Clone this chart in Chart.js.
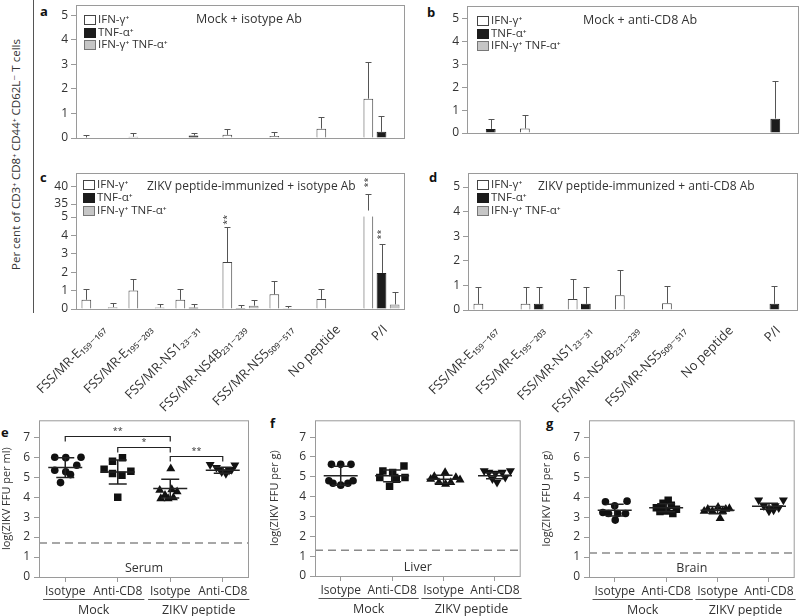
<!DOCTYPE html>
<html>
<head>
<meta charset="utf-8">
<script src="https://cdn.jsdelivr.net/npm/chart.js@4.4.1/dist/chart.umd.min.js"></script>
<style>
  body { margin: 0; background: #fff; width: 800px; height: 616px; position: relative; overflow: hidden; font-family: "Open Sans", "DejaVu Sans", sans-serif; color: #333; }
  canvas { position: absolute; }
  .letter { position: absolute; font-weight: bold; font-size: 13px; color: #111; }
  #ytitle { position: absolute; left: -115px; top: 147px; width: 260px; text-align: center; font-size: 11.5px; transform: rotate(-90deg); }
  #vline { position: absolute; left: 33px; top: 0; width: 1px; height: 313px; background: #555; }
</style>
</head>
<body>
<div id="vline"></div>
<div id="ytitle">Per cent of CD3⁺ CD8⁺ CD44⁺ CD62L⁻ T cells</div>
<div class="letter" style="left:40px;top:2px">a</div>
<div class="letter" style="left:427px;top:3px">b</div>
<div class="letter" style="left:40px;top:168px">c</div>
<div class="letter" style="left:429px;top:168px">d</div>
<div class="letter" style="left:1px;top:423px">e</div>
<div class="letter" style="left:270px;top:414px">f</div>
<div class="letter" style="left:546px;top:414px">g</div>

<canvas id="pa" width="372" height="148" style="left:36px;top:0"></canvas>
<canvas id="pb" width="373" height="143" style="left:427px;top:0"></canvas>
<canvas id="pc" width="380" height="254" style="left:28px;top:160px"></canvas>
<canvas id="pd" width="381" height="254" style="left:419px;top:160px"></canvas>
<canvas id="pe" width="255" height="201" style="left:0;top:415px"></canvas>
<canvas id="pf" width="258" height="201" style="left:268px;top:415px"></canvas>
<canvas id="pg" width="260" height="201" style="left:540px;top:415px"></canvas>

<script>
const FONT = '"Open Sans", "DejaVu Sans", sans-serif';
const TXT = '#333';
const AXIS = '#9a9a9a';

// ---------- panels a-d : cytokine bars ----------
const peptides = ['FSS/MR-E₁₅₉₋₁₆₇', 'FSS/MR-E₁₉₅₋₂₀₃', 'FSS/MR-NS1₂₃₋₃₁', 'FSS/MR-NS4B₂₃₁₋₂₃₉', 'FSS/MR-NS5₅₀₉₋₅₁₇', 'No peptide', 'P/I'];
const cytokines = ['IFN-γ⁺', 'TNF-α⁺', 'IFN-γ⁺ TNF-α⁺'];
const cytoFill = ['#ffffff', '#1c1c1c', '#c6c6c6'];
const cytoBorder = ['#444444', '#1c1c1c', '#777777'];

// a: Mock + isotype Ab
const mockIsoIFN = [0.02, 0.05, null, 0.13, 0.08, 0.38, 1.6];
const mockIsoIFNErr = [0.1, 0.15, 0, 0.22, 0.18, 0.48, 1.5];
const mockIsoTNF = [null, null, 0.1, null, null, null, 0.25];
const mockIsoTNFErr = [0, 0, 0.12, 0, 0, 0, 0.65];
const mockIsoBoth = [null, null, null, null, null, null, null];
const mockIsoBothErr = [0, 0, 0, 0, 0, 0, 0];

// b: Mock + anti-CD8 Ab
const mockCD8IFN = [null, 0.2, null, null, null, null, null];
const mockCD8IFNErr = [0, 0.6, 0, 0, 0, 0, 0];
const mockCD8TNF = [0.18, null, null, null, null, null, 0.63];
const mockCD8TNFErr = [0.43, 0, 0, 0, 0, 0, 1.66];
const mockCD8Both = [null, null, null, null, null, null, null];
const mockCD8BothErr = [0, 0, 0, 0, 0, 0, 0];

// c: ZIKV peptide-immunized + isotype Ab
const pepIsoIFN = [0.5, 1.0, 0.5, 2.55, 0.8, 0.55, 20];
const pepIsoIFNErr = [0.6, 0.65, 0.57, 1.9, 0.72, 0.52, 18];
const pepIsoTNF = [null, null, 0.08, 0.05, 0.04, null, 1.96];
const pepIsoTNFErr = [0, 0, 0.18, 0.15, 0.15, 0, 1.6];
const pepIsoBoth = [0.1, 0.08, null, 0.18, null, null, 0.25];
const pepIsoBothErr = [0.2, 0.2, 0, 0.32, 0, 0, 0.65];
const pepIsoStars = [{cat: 3, series: 0, y: 4.85}, {cat: 6, series: 0, y: 41.3}, {cat: 6, series: 1, y: 4.05}];

// d: ZIKV peptide-immunized + anti-CD8 Ab
const pepCD8IFN = [0.25, 0.25, 0.45, 0.6, 0.27, null, null];
const pepCD8IFNErr = [0.67, 0.67, 0.8, 1.02, 0.72, 0, 0];
const pepCD8TNF = [null, 0.25, 0.25, null, null, null, 0.25];
const pepCD8TNFErr = [0, 0.7, 0.68, 0, 0, 0, 0.72];
const pepCD8Both = [null, null, null, null, null, null, null];
const pepCD8BothErr = [0, 0, 0, 0, 0, 0, 0];

const ticks0to5 = [0, 1, 2, 3, 4, 5];
const ticksBroken = [0, 1, 2, 3, 4, 5, 35, 40];

// ---------- panels e-g : viral titres ----------
const xGroups = ['Isotype', 'Anti-CD8', 'Isotype', 'Anti-CD8'];
const treatments = ['Mock', 'ZIKV peptide'];
const titreTicks = [0, 1, 2, 3, 4, 5, 6, 7];

// serum (x = group position with jitter, y = log FFU per ml)
const serumMockIso = [[0.80, 6.0], [1.01, 5.98], [1.30, 6.0], [1.22, 5.6], [0.80, 5.35], [1.01, 5.27], [1.10, 5.13], [0.91, 4.73]];
const serumMockCD8 = [[2.09, 5.98], [1.90, 5.8], [1.74, 5.4], [2.25, 5.3], [1.90, 5.18], [2.08, 5.1], [2.00, 4.0]];
const serumPepIso = [[3.01, 5.43], [2.80, 4.35], [3.03, 4.38], [3.13, 4.27], [2.90, 4.1], [2.82, 3.93], [2.96, 3.93], [3.06, 3.97]];
const serumPepCD8 = [[3.76, 5.63], [3.88, 5.48], [3.98, 5.27], [4.06, 5.18], [4.17, 5.38], [4.23, 5.6], [3.95, 5.38], [4.12, 5.35]];
const serumMeans = [5.48, 5.26, 4.43, 5.35];
const serumSDs = [0.5, 0.6, 0.47, 0.15];
const serumLOD = 1.7;
const serumBrackets = [{from: 1, to: 3, y: 7.07, label: '**'}, {from: 2, to: 3, y: 6.52, label: '*'}, {from: 3, to: 4, y: 6.05, label: '**'}];

// liver (log FFU per g)
const liverMockIso = [[0.82, 5.63], [1.00, 5.63], [1.20, 5.63], [0.77, 4.8], [0.85, 4.68], [1.00, 4.58], [1.14, 4.68], [1.24, 4.8]];
const liverMockCD8 = [[2.23, 5.55], [1.82, 5.3], [2.01, 5.22], [1.76, 4.97], [2.05, 4.97], [2.25, 4.97], [1.95, 4.52], [2.08, 4.88]];
const liverPepIso = [[3.03, 5.22], [2.82, 5.02], [3.24, 4.97], [2.75, 4.88], [3.32, 4.85], [2.91, 4.72], [3.04, 4.63], [3.14, 4.72]];
const liverPepCD8 = [[3.79, 5.3], [3.88, 5.22], [4.01, 5.18], [4.14, 5.22], [4.30, 5.3], [4.04, 4.72], [3.95, 4.9], [4.20, 4.98]];
const liverMeans = [5.05, 5.05, 4.88, 5.05];
const liverSDs = [0.48, 0.3, 0.2, 0.15];
const liverLOD = 1.3;

// brain (log FFU per g)
const brainMockIso = [[0.82, 3.77], [1.00, 3.57], [1.24, 3.8], [0.77, 3.23], [0.88, 3.18], [1.06, 3.18], [1.21, 3.18], [1.01, 2.85]];
const brainMockCD8 = [[2.04, 3.85], [1.94, 3.7], [2.10, 3.6], [1.81, 3.47], [2.20, 3.4], [2.01, 3.3], [1.88, 3.28], [2.13, 3.18]];
const brainPepIso = [[2.81, 3.4], [3.01, 3.5], [3.23, 3.43], [2.90, 3.3], [3.10, 3.3], [3.16, 3.4], [2.74, 3.3], [3.05, 2.93]];
const brainPepCD8 = [[3.80, 3.85], [4.28, 3.85], [3.90, 3.57], [4.01, 3.4], [4.09, 3.35], [4.19, 3.47], [4.00, 3.3], [4.12, 3.57]];
const brainMeans = [3.35, 3.47, 3.35, 3.55];
const brainSDs = [0.3, 0.2, 0.18, 0.15];
const brainLOD = 1.2;

// ---------- y scale with a break (0-5 | 35-40) ----------
class BrokenScale extends Chart.LinearScale {
  static id = 'broken';
  toDecimal(v) {
    const b = this.brk;
    if (v <= b.low) return (v - this.min) / (b.low - this.min) * b.lowFrac;
    if (v >= b.high) return b.highFrac + (v - b.high) / (this.max - b.high) * (1 - b.highFrac);
    return b.lowFrac + (v - b.low) / (b.high - b.low) * (b.highFrac - b.lowFrac);
  }
  getPixelForValue(v) {
    if (v === null || v === undefined || isNaN(v)) return NaN;
    return this.getPixelForDecimal(this.toDecimal(v));
  }
  getValueForPixel(p) {
    const d = this.getDecimalForPixel(p), b = this.brk;
    if (d <= b.lowFrac) return this.min + d / b.lowFrac * (b.low - this.min);
    if (d >= b.highFrac) return b.high + (d - b.highFrac) / (1 - b.highFrac) * (this.max - b.high);
    return b.low + (d - b.lowFrac) / (b.highFrac - b.lowFrac) * (b.high - b.low);
  }
}
Chart.register(BrokenScale);

function barExtras(cfg) {
  return {
    id: 'barExtras',
    afterDatasetsDraw(chart) {
      const {ctx, chartArea: a, scales: {y}} = chart;
      ctx.save();
      if (cfg.brk) {
        // hide the part of the bars that falls into the axis break
        const yLow = y.getPixelForValue(cfg.brk.low), yHigh = y.getPixelForValue(cfg.brk.high);
        ctx.fillStyle = '#fff';
        ctx.fillRect(a.left + 1, yHigh + 1, a.right - a.left - 2, yLow - yHigh - 1.5);
      }
      // upper error whiskers
      ctx.strokeStyle = '#555';
      ctx.lineWidth = 1;
      chart.data.datasets.forEach((ds, di) => {
        chart.getDatasetMeta(di).data.forEach((bar, i) => {
          const v = ds.data[i], e = ds.err[i];
          if (v == null || !e) return;
          const x = Math.round(bar.x) + 0.5;
          const top = Math.round(y.getPixelForValue(v + e)) + 0.5;
          ctx.beginPath();
          ctx.moveTo(x, bar.y);
          ctx.lineTo(x, top);
          ctx.moveTo(x - 3, top);
          ctx.lineTo(x + 3, top);
          ctx.stroke();
        });
      });
      // significance marks
      ctx.fillStyle = '#333';
      ctx.font = '9px ' + FONT;
      ctx.textAlign = 'center';
      ctx.textBaseline = 'middle';
      (cfg.stars || []).forEach(s => {
        const bar = chart.getDatasetMeta(s.series).data[s.cat];
        ctx.save();
        ctx.translate(bar.x, y.getPixelForValue(s.y));
        ctx.rotate(-Math.PI / 2);
        ctx.fillText('**', 0, 0);
        ctx.restore();
      });
      // frame
      ctx.strokeStyle = AXIS;
      ctx.strokeRect(a.left + 0.5, a.top + 0.5, a.right - a.left - 1, a.bottom - a.top);
      // legend inside the plot, top left
      ctx.font = '11.5px ' + FONT;
      ctx.textAlign = 'left';
      chart.data.datasets.forEach((ds, i) => {
        const bx = Math.round(a.left + cfg.legendDx), by = Math.round(a.top + cfg.legendDy + i * cfg.legendStep);
        ctx.fillStyle = ds.backgroundColor;
        ctx.fillRect(bx, by, 12, 10);
        ctx.strokeStyle = ds.borderColor;
        ctx.strokeRect(bx + 0.5, by + 0.5, 11, 9);
        ctx.fillStyle = TXT;
        ctx.fillText(ds.label, bx + 14, by + 5);
      });
      // panel heading
      ctx.fillStyle = TXT;
      ctx.font = cfg.headingSize + 'px ' + FONT;
      ctx.fillText(cfg.heading, a.left + cfg.headingDx, a.top + 14);
      ctx.restore();
    }
  };
}

function barPanel(id, vals, errs, cfg) {
  return new Chart(document.getElementById(id), {
    type: 'bar',
    data: {
      labels: peptides,
      datasets: vals.map((v, i) => ({
        label: cytokines[i],
        data: v,
        err: errs[i],
        backgroundColor: cytoFill[i],
        borderColor: cytoBorder[i],
        borderWidth: 1,
        categoryPercentage: 0.84,
        barPercentage: 0.74
      }))
    },
    options: {
      responsive: false,
      animation: false,
      layout: {padding: {top: cfg.top, right: cfg.right, left: 0, bottom: 0}},
      plugins: {tooltip: {enabled: false}, legend: {display: false}},
      scales: {
        x: {
          grid: {display: false},
          border: {display: false},
          ticks: {display: cfg.showX, autoSkip: false, minRotation: 45, maxRotation: 45, padding: 5, labelOffset: 4,
                  color: TXT, font: {family: FONT, size: 13}},
          afterFit: s => { s.height = cfg.xh; s.paddingLeft = 0; s.paddingRight = 0; }
        },
        y: {
          type: cfg.brk ? 'broken' : 'linear',
          min: 0,
          max: cfg.yMax,
          afterDataLimits: s => { s.brk = cfg.brk; },
          afterBuildTicks: s => { s.ticks = cfg.yTicks.map(v => ({value: v})); },
          grid: {drawOnChartArea: false, drawTicks: true, tickLength: 5, color: AXIS},
          border: {display: false},
          ticks: {padding: 3, color: TXT, font: {family: FONT, size: 12}},
          afterFit: s => { s.width = cfg.yw; s.paddingTop = 0; s.paddingBottom = 0; }
        }
      }
    },
    plugins: [barExtras(cfg)]
  });
}

barPanel('pa', [mockIsoIFN, mockIsoTNF, mockIsoBoth], [mockIsoIFNErr, mockIsoTNFErr, mockIsoBothErr],
  {top: 5, right: 3, xh: 10, yw: 40, yMax: 5.41, yTicks: ticks0to5, showX: false,
   heading: 'Mock + isotype Ab', headingDx: 120, headingSize: 12.5, legendDx: 8, legendDy: 10, legendStep: 12.5});
barPanel('pb', [mockCD8IFN, mockCD8TNF, mockCD8Both], [mockCD8IFNErr, mockCD8TNFErr, mockCD8BothErr],
  {top: 6, right: 1, xh: 10, yw: 40, yMax: 5.57, yTicks: ticks0to5, showX: false,
   heading: 'Mock + anti-CD8 Ab', headingDx: 116, headingSize: 12.5, legendDx: 10, legendDy: 10, legendStep: 12.5});
barPanel('pc', [pepIsoIFN, pepIsoTNF, pepIsoBoth], [pepIsoIFNErr, pepIsoTNFErr, pepIsoBothErr],
  {top: 13, right: 3, xh: 105, yw: 48, yMax: 44.1, yTicks: ticksBroken, showX: true,
   brk: {low: 5, high: 35, lowFrac: 0.676, highFrac: 0.772}, stars: pepIsoStars,
   heading: 'ZIKV peptide-immunized + isotype Ab', headingDx: 71, headingSize: 12, legendDx: 7, legendDy: 7, legendStep: 13});
barPanel('pd', [pepCD8IFN, pepCD8TNF, pepCD8Both], [pepCD8IFNErr, pepCD8TNFErr, pepCD8BothErr],
  {top: 13, right: 2, xh: 104, yw: 49, yMax: 5.57, yTicks: ticks0to5, showX: true,
   heading: 'ZIKV peptide-immunized + anti-CD8 Ab', headingDx: 70, headingSize: 12, legendDx: 9, legendDy: 7, legendStep: 13});

// ---------- scatter panels ----------
function titreExtras(cfg) {
  return {
    id: 'titreExtras',
    afterDatasetsDraw(chart) {
      const {ctx, chartArea: a, scales: {x, y}} = chart;
      ctx.save();
      ctx.strokeStyle = '#222';
      ctx.lineWidth = 1.5;
      cfg.means.forEach((m, i) => {
        const px = x.getPixelForValue(i + 1);
        const pm = y.getPixelForValue(m);
        const pt = y.getPixelForValue(m + cfg.sds[i]);
        const pb = y.getPixelForValue(m - cfg.sds[i]);
        ctx.beginPath();
        ctx.moveTo(px - 17, pm); ctx.lineTo(px + 17, pm);
        ctx.moveTo(px, pt); ctx.lineTo(px, pb);
        ctx.moveTo(px - 9, pt); ctx.lineTo(px + 9, pt);
        ctx.moveTo(px - 9, pb); ctx.lineTo(px + 9, pb);
        ctx.stroke();
      });
      // significance brackets
      ctx.lineWidth = 1.2;
      ctx.fillStyle = TXT;
      ctx.font = '9px ' + FONT;
      ctx.textAlign = 'center';
      ctx.textBaseline = 'bottom';
      (cfg.brackets || []).forEach(b => {
        const x1 = x.getPixelForValue(b.from), x2 = x.getPixelForValue(b.to), yb = Math.round(y.getPixelForValue(b.y)) + 0.5;
        ctx.beginPath();
        ctx.moveTo(x1, yb + 5); ctx.lineTo(x1, yb); ctx.lineTo(x2, yb); ctx.lineTo(x2, yb + 5);
        ctx.stroke();
        ctx.fillText(b.label, (x1 + x2) / 2, yb - 1);
      });
      // tissue name
      ctx.font = '12.5px ' + FONT;
      ctx.textBaseline = 'middle';
      ctx.fillText(cfg.tissue, x.getPixelForValue(2.5), y.getPixelForValue(0.45));
      // frame
      ctx.strokeStyle = AXIS;
      ctx.lineWidth = 1;
      ctx.strokeRect(a.left + 0.5, a.top + 0.5, a.right - a.left - 1, a.bottom - a.top);
      ctx.restore();
    },
    afterDraw(chart) {
      const {ctx, chartArea: a, scales: {x}} = chart;
      ctx.save();
      ctx.font = '12.5px ' + FONT;
      ctx.fillStyle = TXT;
      ctx.strokeStyle = '#555';
      ctx.lineWidth = 1;
      ctx.textAlign = 'center';
      ctx.textBaseline = 'middle';
      treatments.forEach((t, k) => {
        const i1 = 2 * k, i2 = 2 * k + 1;
        const p1 = x.getPixelForValue(i1 + 1), p2 = x.getPixelForValue(i2 + 1);
        const l = p1 - ctx.measureText(xGroups[i1]).width / 2 - 1;
        const r = p2 + ctx.measureText(xGroups[i2]).width / 2 + 1;
        const ly = a.bottom + 22.5;
        ctx.beginPath();
        ctx.moveTo(l, ly); ctx.lineTo(r, ly);
        ctx.stroke();
        ctx.fillText(t, (l + r) / 2, a.bottom + 33);
      });
      ctx.restore();
    }
  };
}

const toXY = arr => arr.map(p => ({x: p[0], y: p[1]}));

function titrePanel(id, groups, cfg) {
  const styles = [
    {pointStyle: 'circle', pointRadius: 3.8, pointRotation: 0},
    {pointStyle: 'rect', pointRadius: 5.3, pointRotation: 0},
    {pointStyle: 'triangle', pointRadius: 5.2, pointRotation: 0},
    {pointStyle: 'triangle', pointRadius: 5.2, pointRotation: 180}
  ];
  const datasets = groups.map((g, i) => Object.assign({
    data: toXY(g),
    backgroundColor: '#111',
    borderColor: '#111',
    borderWidth: 0,
    order: 0
  }, styles[i]));
  datasets.push({
    type: 'line',
    data: [{x: 0.5, y: cfg.lod}, {x: 4.5, y: cfg.lod}],
    borderColor: '#8a8a8a',
    borderWidth: 1.5,
    borderDash: [8, 5],
    pointRadius: 0,
    order: 1
  });
  return new Chart(document.getElementById(id), {
    type: 'scatter',
    data: {datasets},
    options: {
      responsive: false,
      animation: false,
      layout: {padding: {top: 5, right: cfg.right, left: 0, bottom: 0}},
      plugins: {legend: {display: false}, tooltip: {enabled: false}},
      scales: {
        x: {
          type: 'linear',
          min: 0.5,
          max: 4.5,
          afterBuildTicks: s => { s.ticks = [1, 2, 3, 4].map(v => ({value: v})); },
          grid: {drawOnChartArea: false, drawTicks: true, tickLength: 5, color: AXIS},
          border: {display: false},
          ticks: {callback: v => xGroups[v - 1], maxRotation: 0, padding: 2, color: TXT, font: {family: FONT, size: 12}},
          afterFit: s => { s.height = cfg.xh; s.paddingLeft = 0; s.paddingRight = 0; }
        },
        y: {
          min: 0,
          max: 7.85,
          afterBuildTicks: s => { s.ticks = titreTicks.map(v => ({value: v})); },
          grid: {drawOnChartArea: false, drawTicks: true, tickLength: 5, color: AXIS},
          border: {display: false},
          ticks: {padding: 4, color: TXT, font: {family: FONT, size: 12}},
          title: {display: true, text: cfg.yTitle, color: TXT, padding: 0, font: {family: FONT, size: 11}},
          afterFit: s => { s.width = cfg.yw; s.paddingTop = 0; s.paddingBottom = 0; }
        }
      }
    },
    plugins: [titreExtras(cfg)]
  });
}

titrePanel('pe', [serumMockIso, serumMockCD8, serumPepIso, serumPepCD8],
  {right: 6, xh: 39, yw: 39, lod: serumLOD, means: serumMeans, sds: serumSDs, brackets: serumBrackets,
   tissue: 'Serum', yTitle: 'log(ZIKV FFU per ml)'});
titrePanel('pf', [liverMockIso, liverMockCD8, liverPepIso, liverPepCD8],
  {right: 4, xh: 40, yw: 47, lod: liverLOD, means: liverMeans, sds: liverSDs,
   tissue: 'Liver', yTitle: 'log(ZIKV FFU per g)'});
titrePanel('pg', [brainMockIso, brainMockCD8, brainPepIso, brainPepCD8],
  {right: 3, xh: 39, yw: 49, lod: brainLOD, means: brainMeans, sds: brainSDs,
   tissue: 'Brain', yTitle: 'log(ZIKV FFU per g)'});
</script>
</body>
</html>
